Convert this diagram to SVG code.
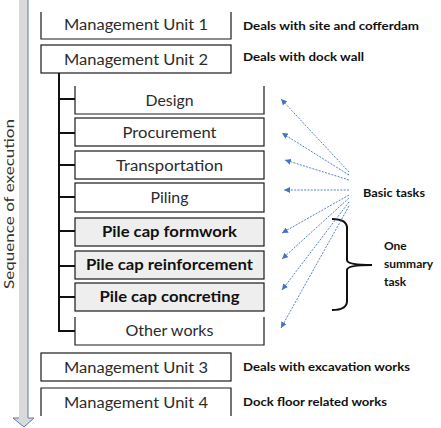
<svg xmlns="http://www.w3.org/2000/svg" width="441" height="428" viewBox="0 0 441 428">
<style>
.bx{fill:#ffffff;stroke:#1a1a1a;stroke-width:1.2}
.bxg{fill:#eeeeee;stroke:#1a1a1a;stroke-width:1.2}
.ed{fill:none;stroke:#1a1a1a;stroke-width:1.2}
.mu{font-family:Lato,"Open Sans",sans-serif;font-size:15.5px;fill:#2b2b2b;text-anchor:middle}
.tk{font-family:Lato,"Open Sans",sans-serif;font-size:14.5px;fill:#2b2b2b;text-anchor:middle}
.tb{font-family:Lato,"Open Sans",sans-serif;font-size:14.5px;font-weight:bold;fill:#111;text-anchor:middle}
.an{font-family:Lato,"Open Sans",sans-serif;font-size:11px;font-weight:bold;fill:#111}
.an2{font-family:Lato,"Open Sans",sans-serif;font-size:12px;font-weight:bold;fill:#111}
.tree{fill:none;stroke:#111;stroke-width:2}
.ptr{fill:none;stroke:#4472c4;stroke-width:0.9;stroke-dasharray:2 1.3}
</style>
<defs>
<marker id="ah" markerUnits="userSpaceOnUse" markerWidth="7" markerHeight="6" refX="6" refY="3" orient="auto">
<path d="M0,0 L6,3 L0,6 z" fill="#4472c4"/>
</marker>
</defs>

<g id="sequence-arrow">
<polygon points="19,0 28,0 28,418 34,418 24,427 13,418 19,418" fill="#d9d9d9"/>
<polyline points="28,0 28,418 34,418 24,427 13,418 19,418" fill="none" stroke="#5b7bb0" stroke-width="1"/>
<text transform="translate(14,204) rotate(-90)" font-family="Lato,'Open Sans',sans-serif" font-size="14" fill="#333" text-anchor="middle" textLength="170" lengthAdjust="spacingAndGlyphs">Sequence of execution</text>
</g>

<g id="mu1">
<polyline class="ed" points="41,12 41,39 231,39 231,12"/>
<text class="mu" x="136" y="30" textLength="144" lengthAdjust="spacingAndGlyphs">Management Unit 1</text>
<text class="an" x="243" y="30" textLength="176" lengthAdjust="spacingAndGlyphs">Deals with site and cofferdam</text>
</g>
<g id="mu2">
<rect class="bx" x="41" y="45" width="190" height="28"/>
<text class="mu" x="136" y="65" textLength="144" lengthAdjust="spacingAndGlyphs">Management Unit 2</text>
<text class="an" x="243" y="61" textLength="121" lengthAdjust="spacingAndGlyphs">Deals with dock wall</text>
</g>

<g id="design">
<polyline class="ed" points="75,86 75,114 264,114 264,86"/>
<text class="tk" x="169.5" y="106" textLength="48" lengthAdjust="spacingAndGlyphs">Design</text>
</g>
<g id="procurement">
<rect class="bx" x="75" y="118" width="189" height="28"/>
<text class="tk" x="169.5" y="138" textLength="94" lengthAdjust="spacingAndGlyphs">Procurement</text>
</g>
<g id="transportation">
<rect class="bx" x="75" y="151" width="189" height="28"/>
<text class="tk" x="169.5" y="171" textLength="107" lengthAdjust="spacingAndGlyphs">Transportation</text>
</g>
<g id="piling">
<rect class="bx" x="75" y="183" width="189" height="29"/>
<text class="tk" x="169.5" y="203" textLength="38" lengthAdjust="spacingAndGlyphs">Piling</text>
</g>
<g id="formwork">
<rect class="bxg" x="75" y="218" width="189" height="28"/>
<text class="tb" x="169.5" y="237" textLength="135" lengthAdjust="spacingAndGlyphs">Pile cap formwork</text>
</g>
<g id="reinforcement">
<rect class="bxg" x="75" y="251" width="189" height="28"/>
<text class="tb" x="169.5" y="270" textLength="167" lengthAdjust="spacingAndGlyphs">Pile cap reinforcement</text>
</g>
<g id="concreting">
<rect class="bxg" x="75" y="283" width="189" height="28"/>
<text class="tb" x="169.5" y="302" textLength="140" lengthAdjust="spacingAndGlyphs">Pile cap concreting</text>
</g>
<g id="other">
<polyline class="ed" points="75,317 75,345 264,345 264,317"/>
<text class="tk" x="169.5" y="336" textLength="88" lengthAdjust="spacingAndGlyphs">Other works</text>
</g>

<g id="mu3">
<rect class="bx" x="41" y="353" width="190" height="28"/>
<text class="mu" x="136" y="373" textLength="144" lengthAdjust="spacingAndGlyphs">Management Unit 3</text>
<text class="an" x="243" y="371" textLength="167" lengthAdjust="spacingAndGlyphs">Deals with excavation works</text>
</g>
<g id="mu4">
<polyline class="ed" points="41,416 41,388 231,388 231,416"/>
<text class="mu" x="136" y="408" textLength="144" lengthAdjust="spacingAndGlyphs">Management Unit 4</text>
<text class="an" x="243" y="406" textLength="144" lengthAdjust="spacingAndGlyphs">Dock floor related works</text>
</g>

<g id="basic-tasks-label">
<text class="an2" x="363" y="197" textLength="62" lengthAdjust="spacingAndGlyphs">Basic tasks</text>
</g>
<g id="summary-label">
<path d="M332,219 Q347,219 347,228 L347,260 Q347,265 372,265 Q347,265 347,270 L347,301 Q347,310 332,310" fill="none" stroke="#111" stroke-width="2"/>
<text class="an2" x="384" y="250">One</text>
<text class="an2" x="384" y="268">summary</text>
<text class="an2" x="384" y="286">task</text>
</g>

<g id="connectors">
<path class="tree" d="M59,73 L59,331 L75,331 M59,99 L75,99 M59,133 L75,133 M59,165 L75,165 M59,197 L75,197 M59,231 L75,231 M59,266 L75,266 M59,297 L75,297"/>
<line class="ptr" x1="349" y1="172" x2="281" y2="99" marker-end="url(#ah)"/>
<line class="ptr" x1="349" y1="175" x2="282" y2="133" marker-end="url(#ah)"/>
<line class="ptr" x1="349" y1="180" x2="285" y2="160" marker-end="url(#ah)"/>
<line class="ptr" x1="349" y1="190" x2="284" y2="190" marker-end="url(#ah)"/>
<line class="ptr" x1="349" y1="195" x2="282" y2="233" marker-end="url(#ah)"/>
<line class="ptr" x1="349" y1="198" x2="282" y2="259" marker-end="url(#ah)"/>
<line class="ptr" x1="349" y1="202" x2="282" y2="290" marker-end="url(#ah)"/>
<line class="ptr" x1="349" y1="206" x2="281" y2="328" marker-end="url(#ah)"/>
</g>
</svg>
